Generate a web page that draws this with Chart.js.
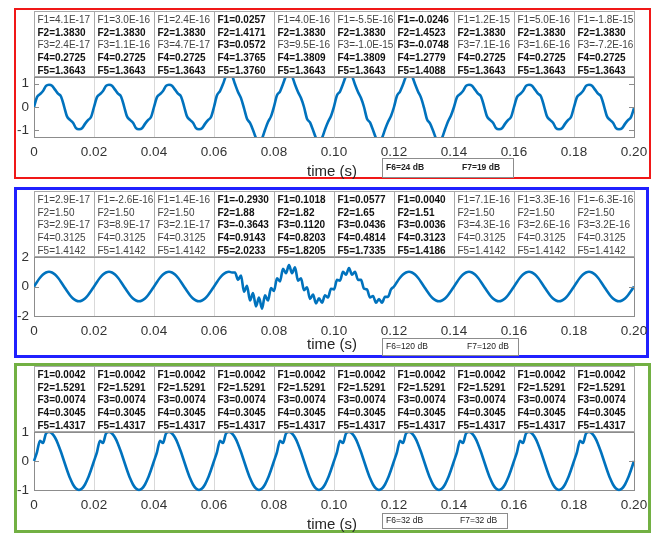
<!DOCTYPE html>
<html>
<head>
<meta charset="utf-8">
<script src="https://cdn.jsdelivr.net/npm/chart.js@4.4.1/dist/chart.umd.min.js"></script>
<style>
  body { margin: 0; background: #fff; width: 657px; height: 534px; position: relative; overflow: hidden; }
  .frame { position: absolute; box-sizing: border-box; }
  canvas { position: absolute; left: 0; }
</style>
</head>
<body>
<div class="frame" style="left:14px;top:8px;width:637px;height:171px;border:2px solid #f01818"></div>
<div class="frame" style="left:14px;top:187px;width:635px;height:171px;border:3px solid #2020ff"></div>
<div class="frame" style="left:14px;top:363px;width:637px;height:170px;border:3px solid #72b043"></div>
<canvas id="c1" width="657" height="182" style="top:0"></canvas>
<canvas id="c2" width="657" height="178" style="top:182px"></canvas>
<canvas id="c3" width="657" height="174" style="top:360px"></canvas>
<script>
// sample instants, 1 ms apart
const time = Array.from({ length: 201 }, (_, i) => i / 1000);

const xTicks = [0, 0.02, 0.04, 0.06, 0.08, 0.10, 0.12, 0.14, 0.16, 0.18, 0.20];
const xTickLabels = ['0', '0.02', '0.04', '0.06', '0.08', '0.10', '0.12', '0.14', '0.16', '0.18', '0.20'];

// panel 1 waveform
const wave1 = [
  0, 0.42, 0.55, 0.68, 0.90, 0.95, 0.91, 0.74, 0.57, 0.45, 0.04, -0.40, -0.55, -0.67, -0.90, -0.95, -0.91, -0.72, -0.56, -0.43,
  0, 0.42, 0.55, 0.68, 0.90, 0.95, 0.91, 0.74, 0.57, 0.45, 0.04, -0.40, -0.55, -0.67, -0.90, -0.95, -0.91, -0.72, -0.56, -0.43,
  0, 0.42, 0.55, 0.68, 0.90, 0.95, 0.91, 0.74, 0.57, 0.45, 0.04, -0.40, -0.55, -0.67, -0.90, -0.95, -0.91, -0.72, -0.56, -0.43,
  0, 0.50, 0.68, 0.98, 1.32, 1.42, 1.34, 0.98, 0.64, 0.38, -0.05, -0.50, -0.68, -0.98, -1.32, -1.42, -1.34, -0.98, -0.64, -0.40,
  0.02, 0.50, 0.66, 0.98, 1.32, 1.42, 1.32, 0.96, 0.64, 0.38, 0, -0.50, -0.66, -0.98, -1.32, -1.42, -1.32, -0.96, -0.64, -0.38,
  0.02, 0.50, 0.66, 0.98, 1.32, 1.42, 1.32, 0.96, 0.64, 0.38, 0, -0.50, -0.66, -0.98, -1.32, -1.42, -1.32, -0.96, -0.64, -0.38,
  0, 0.48, 0.66, 0.96, 1.30, 1.40, 1.32, 0.98, 0.66, 0.40, -0.03, -0.52, -0.70, -1.00, -1.34, -1.42, -1.32, -0.96, -0.62, -0.36,
  0, 0.42, 0.55, 0.68, 0.90, 0.95, 0.91, 0.74, 0.57, 0.45, 0.04, -0.40, -0.55, -0.67, -0.90, -0.95, -0.91, -0.72, -0.56, -0.43,
  0, 0.42, 0.55, 0.68, 0.90, 0.95, 0.91, 0.74, 0.57, 0.45, 0.04, -0.40, -0.55, -0.67, -0.90, -0.95, -0.91, -0.72, -0.56, -0.43,
  0, 0.42, 0.55, 0.68, 0.90, 0.95, 0.91, 0.74, 0.57, 0.45, 0.04, -0.40, -0.55, -0.67, -0.90, -0.95, -0.91, -0.72, -0.56, -0.43,
  -0.05
];

// panel 2 waveform
const wave2 = [
  0, 0.31, 0.59, 0.81, 0.95, 1.00, 0.95, 0.81, 0.59, 0.31, 0, -0.31, -0.59, -0.81, -0.95, -1.00, -0.95, -0.81, -0.59, -0.31,
  0, 0.31, 0.59, 0.81, 0.95, 1.00, 0.95, 0.81, 0.59, 0.31, 0, -0.31, -0.59, -0.81, -0.95, -1.00, -0.95, -0.81, -0.59, -0.31,
  0, 0.31, 0.59, 0.81, 0.95, 1.00, 0.95, 0.81, 0.59, 0.31, 0, -0.31, -0.59, -0.81, -0.95, -1.00, -0.95, -0.81, -0.59, -0.31,
  0, 0.31, 0.59, 0.81, 0.95, 1.00, 0.95, 0.95, 0.45, 0.75, -0.35, 0.05, -0.95, -0.45, -1.35, -0.75, -1.50, -0.60, -0.95, -0.10,
  -0.30, 0.55, 0.35, 1.20, 0.90, 1.45, 0.90, 1.30, 0.40, 0.55, -0.25, -0.05, -0.85, -0.55, -1.15, -0.80, -1.10, -0.60, -0.75, -0.15,
  -0.20, 0.45, 0.40, 1.00, 0.80, 1.25, 0.80, 1.00, 0.45, 0.45, -0.15, -0.20, -0.75, -0.65, -1.10, -0.85, -1.10, -0.70, -0.70, -0.20,
  0, 0.31, 0.59, 0.81, 0.95, 1.00, 0.95, 0.81, 0.59, 0.31, 0, -0.31, -0.59, -0.81, -0.95, -1.00, -0.95, -0.81, -0.59, -0.31,
  0, 0.31, 0.59, 0.81, 0.95, 1.00, 0.95, 0.81, 0.59, 0.31, 0, -0.31, -0.59, -0.81, -0.95, -1.00, -0.95, -0.81, -0.59, -0.31,
  0, 0.31, 0.59, 0.81, 0.95, 1.00, 0.95, 0.81, 0.59, 0.31, 0, -0.31, -0.59, -0.81, -0.95, -1.00, -0.95, -0.81, -0.59, -0.31,
  0, 0.31, 0.59, 0.81, 0.95, 1.00, 0.95, 0.81, 0.59, 0.31, 0, -0.31, -0.59, -0.81, -0.95, -1.00, -0.95, -0.81, -0.59, -0.31,
  0
];

// panel 3 waveform (small notch on every rising edge)
const wave3 = [
  0, 0.31, 0.70, 0.62, 0.95, 1.00, 0.95, 0.81, 0.59, 0.31, 0, -0.31, -0.59, -0.81, -0.95, -1.00, -0.95, -0.81, -0.59, -0.31,
  0, 0.31, 0.70, 0.62, 0.95, 1.00, 0.95, 0.81, 0.59, 0.31, 0, -0.31, -0.59, -0.81, -0.95, -1.00, -0.95, -0.81, -0.59, -0.31,
  0, 0.31, 0.70, 0.62, 0.95, 1.00, 0.95, 0.81, 0.59, 0.31, 0, -0.31, -0.59, -0.81, -0.95, -1.00, -0.95, -0.81, -0.59, -0.31,
  0, 0.31, 0.70, 0.62, 0.95, 1.00, 0.95, 0.81, 0.59, 0.31, 0, -0.31, -0.59, -0.81, -0.95, -1.00, -0.95, -0.81, -0.59, -0.31,
  0, 0.31, 0.70, 0.62, 0.95, 1.00, 0.95, 0.81, 0.59, 0.31, 0, -0.31, -0.59, -0.81, -0.95, -1.00, -0.95, -0.81, -0.59, -0.31,
  0, 0.31, 0.70, 0.62, 0.95, 1.00, 0.95, 0.81, 0.59, 0.31, 0, -0.31, -0.59, -0.81, -0.95, -1.00, -0.95, -0.81, -0.59, -0.31,
  0, 0.31, 0.70, 0.62, 0.95, 1.00, 0.95, 0.81, 0.59, 0.31, 0, -0.31, -0.59, -0.81, -0.95, -1.00, -0.95, -0.81, -0.59, -0.31,
  0, 0.31, 0.70, 0.62, 0.95, 1.00, 0.95, 0.81, 0.59, 0.31, 0, -0.31, -0.59, -0.81, -0.95, -1.00, -0.95, -0.81, -0.59, -0.31,
  0, 0.31, 0.70, 0.62, 0.95, 1.00, 0.95, 0.81, 0.59, 0.31, 0, -0.31, -0.59, -0.81, -0.95, -1.00, -0.95, -0.81, -0.59, -0.31,
  0, 0.31, 0.70, 0.62, 0.95, 1.00, 0.95, 0.81, 0.59, 0.31, 0, -0.31, -0.59, -0.81, -0.95, -1.00, -0.95, -0.81, -0.59, -0.31,
  0
];

// feature tables, one entry per 0.02 s window
const p1F1 = ['4.1E-17', '3.0E-16', '2.4E-16', '0.0257', '4.0E-16', '-5.5E-16', '-0.0246', '1.2E-15', '5.0E-16', '-1.8E-15'];
const p1F2 = ['1.3830', '1.3830', '1.3830', '1.4171', '1.3830', '1.3830', '1.4523', '1.3830', '1.3830', '1.3830'];
const p1F3 = ['2.4E-17', '1.1E-16', '4.7E-17', '0.0572', '9.5E-16', '-1.0E-15', '-0.0748', '7.1E-16', '1.6E-16', '-7.2E-16'];
const p1F4 = ['0.2725', '0.2725', '0.2725', '1.3765', '1.3809', '1.3809', '1.2779', '0.2725', '0.2725', '0.2725'];
const p1F5 = ['1.3643', '1.3643', '1.3643', '1.3760', '1.3643', '1.3643', '1.4088', '1.3643', '1.3643', '1.3643'];
const p1Bold = ['01011', '01011', '01011', '11111', '01011', '01011', '11111', '01011', '01011', '01011'];

const p2F1 = ['2.9E-17', '-2.6E-16', '1.4E-16', '-0.2930', '0.1018', '0.0577', '0.0040', '7.1E-16', '3.3E-16', '-6.3E-16'];
const p2F2 = ['1.50', '1.50', '1.50', '1.88', '1.82', '1.65', '1.51', '1.50', '1.50', '1.50'];
const p2F3 = ['2.9E-17', '8.9E-17', '2.1E-17', '-0.3643', '0.1120', '0.0436', '0.0036', '4.3E-16', '2.6E-16', '3.2E-16'];
const p2F4 = ['0.3125', '0.3125', '0.3125', '0.9143', '0.8203', '0.4814', '0.3123', '0.3125', '0.3125', '0.3125'];
const p2F5 = ['1.4142', '1.4142', '1.4142', '2.0233', '1.8205', '1.7335', '1.4186', '1.4142', '1.4142', '1.4142'];
const p2Bold = ['00000', '00000', '00000', '11111', '11111', '11111', '11111', '00000', '00000', '00000'];

const p3F1 = ['0.0042', '0.0042', '0.0042', '0.0042', '0.0042', '0.0042', '0.0042', '0.0042', '0.0042', '0.0042'];
const p3F2 = ['1.5291', '1.5291', '1.5291', '1.5291', '1.5291', '1.5291', '1.5291', '1.5291', '1.5291', '1.5291'];
const p3F3 = ['0.0074', '0.0074', '0.0074', '0.0074', '0.0074', '0.0074', '0.0074', '0.0074', '0.0074', '0.0074'];
const p3F4 = ['0.3045', '0.3045', '0.3045', '0.3045', '0.3045', '0.3045', '0.3045', '0.3045', '0.3045', '0.3045'];
const p3F5 = ['1.4317', '1.4317', '1.4317', '1.4317', '1.4317', '1.4317', '1.4317', '1.4317', '1.4317', '1.4317'];
const p3Bold = ['11111', '11111', '11111', '11111', '11111', '11111', '11111', '11111', '11111', '11111'];

const f6f7 = [['F6=24 dB', 'F7=19 dB'], ['F6=120 dB', 'F7=120 dB'], ['F6=32 dB', 'F7=32 dB']];

const FONT = '"Liberation Sans", Arial, sans-serif';
const LINE = '#0072BD';

// table above the axes, the axes box, x title and the F6/F7 box
function decorations(p) {
  return {
    id: 'decor',
    afterDraw(chart) {
      const { ctx, chartArea: a, scales: { x, y } } = chart;
      ctx.save();
      ctx.strokeStyle = '#8c8c8c';
      ctx.lineWidth = 1;
      ctx.beginPath();
      ctx.moveTo(a.left, a.top + 0.5);
      ctx.lineTo(a.right + 0.5, a.top + 0.5);
      ctx.lineTo(a.right + 0.5, a.bottom);
      // y tick marks inside the box, both sides
      p.yTicks.forEach(v => {
        const py = Math.round(y.getPixelForValue(v)) + 0.5;
        ctx.moveTo(a.left, py); ctx.lineTo(a.left + 5, py);
        ctx.moveTo(a.right - 5, py); ctx.lineTo(a.right, py);
      });
      ctx.stroke();

      const top = a.top - 66;
      for (let k = 0; k < 10; k++) {
        const l = Math.round(x.getPixelForValue(xTicks[k]));
        const r = Math.round(x.getPixelForValue(xTicks[k + 1]));
        ctx.strokeStyle = '#a8a8a8';
        ctx.strokeRect(l + 0.5, top + 0.5, r - l, a.top - 1 - top);
        ctx.textAlign = 'left';
        ctx.textBaseline = 'middle';
        p.rows.forEach((row, j) => {
          const bold = p.bold[k][j] === '1';
          ctx.font = (bold ? 'bold ' : '') + '10px ' + FONT;
          ctx.fillStyle = bold ? '#111' : '#444';
          ctx.fillText('F' + (j + 1) + '=' + row[k], l + 3.5, top + 9 + j * 12.75);
        });
      }

      ctx.font = '15px ' + FONT;
      ctx.fillStyle = '#262626';
      ctx.textAlign = 'center';
      ctx.textBaseline = 'middle';
      ctx.fillText('time (s)', 332, p.titleY);

      const [bx, by, bw, bh] = p.box;
      ctx.fillStyle = '#fff';
      ctx.fillRect(bx, by, bw, bh);
      ctx.strokeStyle = '#8c8c8c';
      ctx.strokeRect(bx + 0.5, by + 0.5, bw, bh);
      ctx.font = (p.boxBold ? 'bold ' : '') + '8.5px ' + FONT;
      ctx.fillStyle = '#222';
      ctx.textAlign = 'left';
      ctx.fillText(p.labels[0], bx + 4, by + bh / 2 + 0.5);
      ctx.fillText(p.labels[1], p.f7x, by + bh / 2 + 0.5);
      ctx.restore();
    }
  };
}

function panel(id, values, p) {
  const canvas = document.getElementById(id);
  return new Chart(canvas, {
    type: 'line',
    data: {
      datasets: [{
        data: values.map((v, i) => ({ x: time[i], y: v })),
        borderColor: LINE,
        borderWidth: 2.6,
        pointRadius: 0,
        cubicInterpolationMode: 'monotone',
        clip: p.clip
      }]
    },
    options: {
      responsive: false,
      animation: false,
      layout: { padding: { top: p.chartTop, left: 0, right: 23, bottom: 0 } },
      plugins: { legend: { display: false }, tooltip: { enabled: false } },
      scales: {
        x: {
          type: 'linear',
          min: 0,
          max: 0.2,
          afterBuildTicks: s => { s.ticks = xTicks.map(v => ({ value: v })); },
          afterFit: s => { s.height = p.xAxisH; },
          ticks: {
            autoSkip: false,
            maxRotation: 0,
            padding: 7,
            color: '#333',
            font: { family: FONT, size: 13.5 },
            callback: (v, i) => xTickLabels[i]
          },
          grid: { color: '#d9d9d9', drawTicks: false },
          border: { color: '#8c8c8c', width: 1 }
        },
        y: {
          min: p.yMin,
          max: p.yMax,
          afterBuildTicks: s => { s.ticks = p.yTicks.map(v => ({ value: v })); },
          afterFit: s => { s.width = 34; },
          ticks: {
            padding: 5,
            color: '#333',
            font: { family: FONT, size: 13.5 },
            callback: v => String(v)
          },
          grid: { display: false, drawTicks: false },
          border: { color: '#8c8c8c', width: 1 }
        }
      }
    },
    plugins: [decorations(p)]
  });
}

panel('c1', wave1, {
  chartTop: 77, xAxisH: 45, yMin: -1.28, yMax: 1.28, yTicks: [-1, 0, 1], clip: 0,
  rows: [p1F1, p1F2, p1F3, p1F4, p1F5], bold: p1Bold,
  titleY: 172, box: [382, 158, 131, 19], labels: f6f7[0], f7x: 462, boxBold: true
});
panel('c2', wave2, {
  chartTop: 75, xAxisH: 44, yMin: -2, yMax: 2, yTicks: [-2, 0, 2], clip: 0,
  rows: [p2F1, p2F2, p2F3, p2F4, p2F5], bold: p2Bold,
  titleY: 163, box: [382, 156, 136, 17], labels: f6f7[1], f7x: 467, boxBold: false
});
panel('c3', wave3, {
  chartTop: 72, xAxisH: 44, yMin: -1, yMax: 1, yTicks: [-1, 0, 1], clip: 4,
  rows: [p3F1, p3F2, p3F3, p3F4, p3F5], bold: p3Bold,
  titleY: 165, box: [382, 153, 125, 15], labels: f6f7[2], f7x: 460, boxBold: false
});
</script>
</body>
</html>
